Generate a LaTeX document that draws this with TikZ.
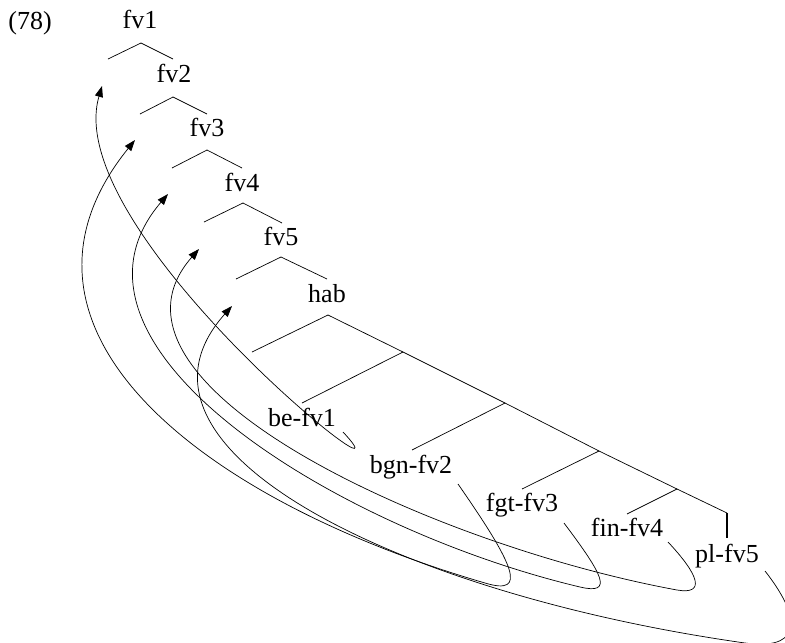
\documentclass[tikz,border=0pt]{standalone}
\usepackage{fontspec}
\setmainfont{Liberation Serif}
\usetikzlibrary{arrows.meta}
\begin{document}
\begin{tikzpicture}[x=1pt,y=-1pt, line width=0.7pt,
  lbl/.style={anchor=base, inner sep=0pt, font=\fontsize{26}{30}\selectfont},
  mv/.style={-{Triangle[length=11pt,width=8pt]}, line width=0.7pt}]
\useasboundingbox (0,0) rectangle (785,643);
\clip (0,0) rectangle (785,643);
% labels
\node[lbl] (ex)  at (30,29)  {(78)};
\node[lbl] (fv1) at (140,28) {fv1};
\node[lbl] (fv2) at (174,82) {fv2};
\node[lbl] (fv3) at (207,136) {fv3};
\node[lbl] (fv4) at (242,191) {fv4};
\node[lbl] (fv5) at (281,245) {fv5};
\node[lbl] (hab) at (327,302) {hab};
\node[lbl] (be)  at (302,426) {be-fv1};
\node[lbl] (bgn) at (411,473) {bgn-fv2};
\node[lbl] (fgt) at (522,511) {fgt-fv3};
\node[lbl] (fin) at (627,536) {fin-fv4};
\node[lbl] (pl)  at (727,562) {pl-fv5};
% tree points
\coordinate (a1) at (141,43);  \coordinate (l1) at (108,59);  \coordinate (r1) at (173,59);
\coordinate (a2) at (173,97);  \coordinate (l2) at (140,114); \coordinate (r2) at (207,114);
\coordinate (a3) at (207,150); \coordinate (l3) at (172,168); \coordinate (r3) at (242,168);
\coordinate (a4) at (243,203); \coordinate (l4) at (204,222); \coordinate (r4) at (282,223);
\coordinate (a5) at (281,257); \coordinate (l5) at (236,279); \coordinate (r5) at (327,279);
\coordinate (h0) at (328,315); \coordinate (hl) at (252,352);
\coordinate (h1) at (403,352); \coordinate (h1l) at (302,403);
\coordinate (h2) at (505,403); \coordinate (h2l) at (412,450);
\coordinate (h3) at (599,451); \coordinate (h3l) at (522,489);
\coordinate (h4) at (677,489); \coordinate (h4l) at (627,514);
\coordinate (h5) at (727,513); \coordinate (h5d) at (727,538);
% tree lines
\draw (l1) -- (a1) -- (r1);
\draw (l2) -- (a2) -- (r2);
\draw (l3) -- (a3) -- (r3);
\draw (l4) -- (a4) -- (r4);
\draw (l5) -- (a5) -- (r5);
\draw (hl) -- (h0) -- (h1) -- (h2) -- (h3) -- (h4) -- (h5);
\draw (h1) -- (h1l);
\draw (h2) -- (h2l);
\draw (h3) -- (h3l);
\draw (h4) -- (h4l);
\draw[line width=1.4pt] (h5) -- (h5d);
% movement arrows
\coordinate (s1) at (343,432); \coordinate (t1) at (102,86);
\coordinate (s2) at (458,484); \coordinate (q2) at (485,583); \coordinate (t2) at (135,140);
\coordinate (s3) at (564,523); \coordinate (q3) at (580,587); \coordinate (t3) at (168,194);
\coordinate (s4) at (668,542); \coordinate (q4) at (677,590); \coordinate (t4) at (199,249);
\coordinate (s5) at (765,571); \coordinate (q5) at (745,643); \coordinate (t5) at (232,306);
\draw[mv] (s1) .. controls (425,520) and (59.5,232) .. (t1);
\draw[mv] (s2) .. controls (515,566) and (528,596) .. (q2) .. controls (197,499) and (-16,327) .. (t2);
\draw[mv] (s3) .. controls (603,575) and (614,595) .. (q3) .. controls (337.5,529.5) and (38,346) .. (t3);
\draw[mv] (s4) .. controls (699,575) and (706,595) .. (q4) .. controls (432,545) and (80,384) .. (t4);
\draw[mv] (s5) .. controls (808,626) and (795,650) .. (q5) .. controls (398.5,594) and (104.7,448.5) .. (t5);
\end{tikzpicture}
\end{document}
